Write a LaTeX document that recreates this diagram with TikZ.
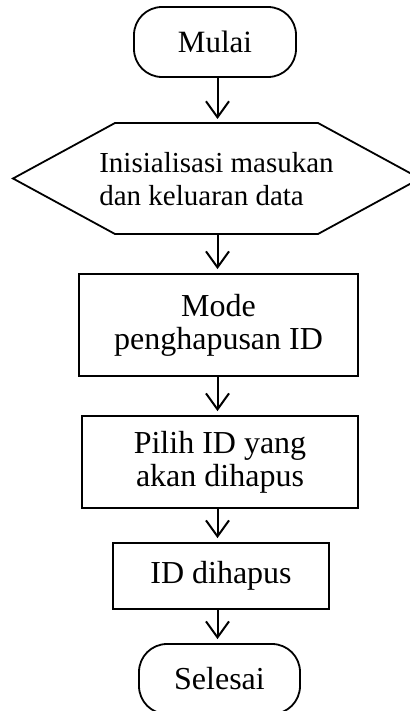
\documentclass[tikz,border=0pt]{standalone}
\usepackage{fontspec}
\setmainfont{Liberation Serif}
\usetikzlibrary{arrows.meta}
\begin{document}
\begin{tikzpicture}[x=1pt,y=-1pt,
  every node/.style={font=\fontsize{32}{33}\selectfont, inner sep=0pt},
  box/.style={draw, line width=1.8pt, align=center},
  term/.style={box, rounded corners=28pt},
  flow/.style={line width=2pt, -{Straight Barb[length=16pt,width=23pt]}, shorten >=4pt}]
\useasboundingbox (0,0) rectangle (409,711);
\coordinate (axis) at (217.5,0);
% terminals and process boxes
\node[term, minimum width=162pt, minimum height=70pt, font=\fontsize{31}{33}\selectfont] (mulai) at (215,42) {Mulai};
\node[align=left, minimum width=203pt, minimum height=111pt, font=\fontsize{29}{33}\selectfont] (init) at (216.5,179.5)
  {Inisialisasi masukan\\dan keluaran data};
% input/output hexagon around the initialisation text
\coordinate (hextop) at ([shift={(0,-56.5)}]init.center);
\coordinate (hexbot) at ([shift={(0,54.5)}]init.center);
\draw[line width=1.8pt] ([shift={(-101.5,-56.5)}]init.center) -- ([shift={(101.5,-56.5)}]init.center)
  -- ([shift={(203.5,-1)}]init.center) -- ([shift={(101.5,54.5)}]init.center)
  -- ([shift={(-101.5,54.5)}]init.center) -- ([shift={(-203.5,-1)}]init.center) -- cycle;
\node[box, minimum width=279pt, minimum height=102pt] (mode) at (218.5,325) {Mode\\penghapusan ID};
\node[box, minimum width=276pt, minimum height=92pt] (pilih) at (220,462) {Pilih ID yang\\akan dihapus};
\node[box, minimum width=216pt, minimum height=66pt] (hapus) at (221,576) {ID dihapus};
\node[term, minimum width=161pt, minimum height=70pt] (selesai) at (219.5,679) {Selesai};
% flow arrows
\draw[flow] (mulai.south -| axis) -- (hextop -| axis);
\draw[flow] (hexbot -| axis) -- (mode.north -| axis);
\draw[flow] (mode.south -| axis) -- (pilih.north -| axis);
\draw[flow] (pilih.south -| axis) -- (hapus.north -| axis);
\draw[flow] (hapus.south -| axis) -- (selesai.north -| axis);
\end{tikzpicture}
\end{document}
